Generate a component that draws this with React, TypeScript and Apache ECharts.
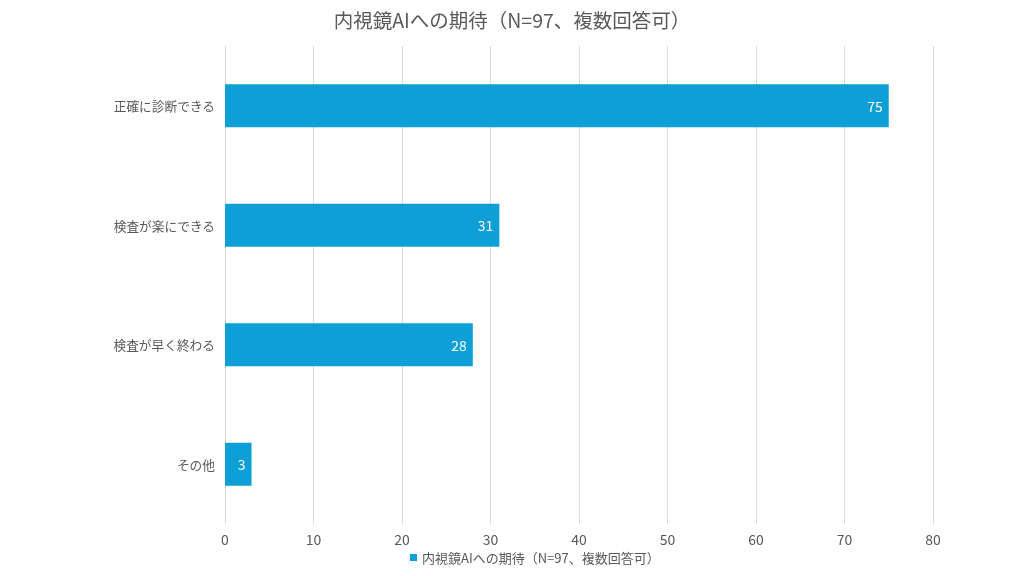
import React, { useEffect, useRef } from "react";
import * as echarts from "echarts";

const title = "内視鏡AIへの期待（N=97、複数回答可）";
const categories = ["正確に診断できる", "検査が楽にできる", "検査が早く終わる", "その他"];
const values = [75, 31, 28, 3];
const xTicks = [0, 10, 20, 30, 40, 50, 60, 70, 80];

const FONT = "'Noto Sans CJK JP', 'Noto Sans', sans-serif";

export default function App() {
  const ref = useRef<HTMLDivElement>(null);
  useEffect(() => {
    const chart = echarts.init(ref.current!, null, { renderer: "svg" });
    chart.setOption({
      animation: false,
      textStyle: { fontFamily: FONT },
      title: {
        text: title,
        left: "center",
        top: 5,
        textStyle: { fontSize: 19.5, fontWeight: "normal", color: "#595959", fontFamily: FONT },
      },
      legend: {
        bottom: 7,
        left: 405,
        itemWidth: 7,
        itemHeight: 7,
        itemGap: 4,
        icon: "rect",
        textStyle: { fontSize: 13, color: "#595959", fontFamily: FONT },
        data: [title],
      },
      grid: { left: 225, right: 91, top: 46, bottom: 52, containLabel: false },
      xAxis: {
        type: "value",
        min: xTicks[0],
        max: xTicks[xTicks.length - 1],
        interval: 10,
        axisLine: { show: false },
        axisTick: { show: false },
        axisLabel: { fontSize: 14, color: "#595959", margin: 8, fontFamily: FONT },
        splitLine: { show: true, lineStyle: { color: "#d9d9d9", width: 1 } },
      },
      yAxis: {
        type: "category",
        inverse: true,
        data: categories,
        axisLine: { show: true, lineStyle: { color: "#d9d9d9" } },
        axisTick: { show: false },
        axisLabel: { fontSize: 12.7, color: "#595959", margin: 10, fontFamily: FONT },
      },
      series: [
        {
          name: title,
          type: "bar",
          data: values,
          barWidth: "36%",
          itemStyle: { color: "#0e9fd6" },
          label: {
            show: true,
            position: "insideRight",
            color: "#ffffff",
            fontSize: 14,
            distance: 6,
            fontFamily: FONT,
          },
        },
      ],
    });
    return () => chart.dispose();
  }, []);
  return (
    <div
      ref={ref}
      style={{ position: "fixed", left: 0, top: 0, width: 1024, height: 576 }}
    />
  );
}
